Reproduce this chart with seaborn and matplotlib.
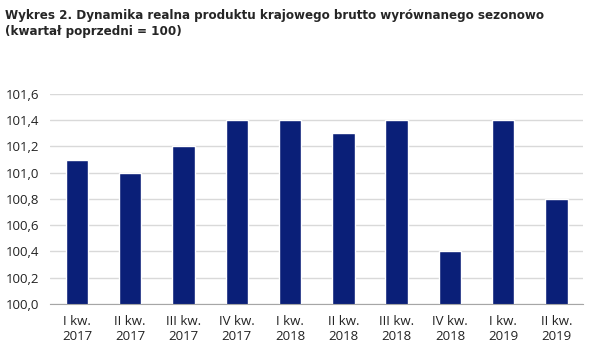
import numpy as np
import pandas as pd
import seaborn as sb
import matplotlib.pyplot as plt
from matplotlib.ticker import FuncFormatter

# data
quarters = ['I kw.\n2017', 'II kw.\n2017', 'III kw.\n2017', 'IV kw.\n2017',
            'I kw.\n2018', 'II kw.\n2018', 'III kw.\n2018', 'IV kw.\n2018',
            'I kw.\n2019', 'II kw.\n2019']
values = [101.1, 101.0, 101.2, 101.4, 101.4, 101.3, 101.4, 100.4, 101.4, 100.8]
yticks = [100.0, 100.2, 100.4, 100.6, 100.8, 101.0, 101.2, 101.4, 101.6]

df = pd.DataFrame({'kwartal': quarters, 'dynamika': values})

sb.set_style('white')
plt.rcParams['font.family'] = ['Open Sans', 'DejaVu Sans']

fig = plt.figure(figsize=(5.92, 3.53), dpi=100)
ax = fig.add_axes([0.085, 0.139, 0.9, 0.595])

# bars start at 100 (the base of the axis)
sb.barplot(data=df, x='kwartal', y='dynamika', color='#0a1f78',
           width=0.42, saturation=1, ax=ax)
ax.set_ylim(100.0, 101.6)
ax.set_xlim(-0.5, len(quarters) - 0.5)
ax.set_yticks(yticks)
ax.yaxis.set_major_formatter(FuncFormatter(lambda v, p: f'{v:.1f}'.replace('.', ',')))
ax.set_xlabel('')
ax.set_ylabel('')
ax.grid(axis='y', color='#d9d9d9', linewidth=1)
ax.set_axisbelow(True)
for s in ['top', 'right', 'left']:
    ax.spines[s].set_visible(False)
ax.spines['bottom'].set_color('#a6a6a6')
ax.tick_params(axis='y', length=0, labelsize=9.5, pad=8, colors='#222222')
ax.tick_params(axis='x', length=0, labelsize=9.5, pad=8, colors='#222222')
# small ticks between categories
ax.set_xticks(np.arange(-0.5, len(quarters)), minor=True)
ax.tick_params(axis='x', which='minor', length=4, color='#a6a6a6')

fig.text(0.008, 0.975, 'Wykres 2. Dynamika realna produktu krajowego brutto wyrównanego sezonowo\n(kwartał poprzedni = 100)',
         ha='left', va='top', fontsize=9.5, fontweight='bold', fontstretch='condensed',
         family=['DejaVu Sans'], linespacing=1.3)

fig.savefig('out.png', dpi=100)
